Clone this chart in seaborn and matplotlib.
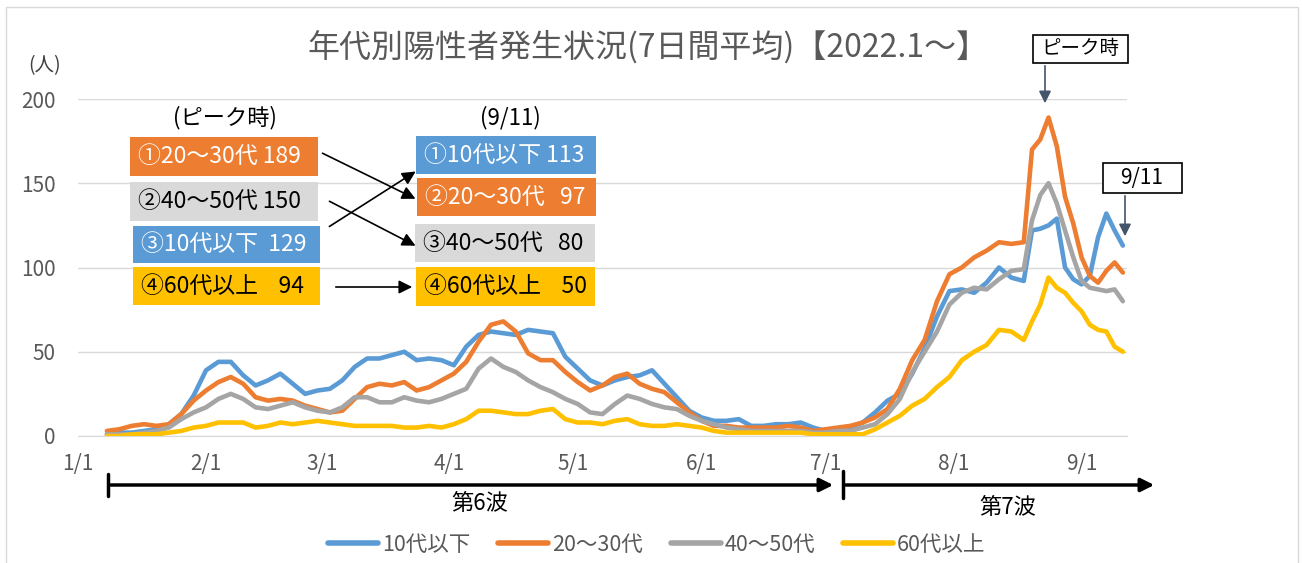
import pandas as pd
import matplotlib
matplotlib.use("Agg")
import matplotlib.pyplot as plt
from matplotlib.lines import Line2D
from matplotlib.patches import Rectangle, FancyArrowPatch
import seaborn as sns

# sample dates: every 3 days until 8/18, then every 2 days up to 9/11
dates = list(pd.date_range("2022-01-08", "2022-08-18", freq="3D")) + \
        list(pd.date_range("2022-08-20", "2022-09-11", freq="2D"))

under10 = [1, 2, 2, 3, 4, 7, 13, 24, 39, 44, 44, 36, 30, 33, 37, 31, 25, 27,
           28, 33, 41, 46, 46, 48, 50, 45, 46, 45,
           42, 53, 60, 62, 61, 60, 63, 62, 61, 47,
           40, 33, 30, 33, 35, 36, 39, 31, 23, 15,
           11, 9, 9, 10, 6, 6, 7, 7, 8, 5,
           3, 3, 5, 8, 14, 21, 25, 37, 52, 71, 86,
           87, 85, 91, 100, 94, 92,
           122, 123, 125, 129, 100, 93, 90, 95, 118, 132, 122, 113]
age20_30 = [3, 4, 6, 7, 6, 7, 13, 21, 27, 32, 35, 31, 23, 21, 22, 21, 18, 16,
            14, 15, 22, 29, 31, 30, 32, 27, 29, 33,
            37, 44, 56, 66, 68, 62, 49, 45, 45, 38,
            32, 27, 30, 35, 37, 31, 28, 26, 20, 14,
            9, 6, 6, 5, 5, 5, 5, 6, 5, 3,
            4, 5, 6, 8, 11, 16, 28, 45, 57, 80, 96,
            100, 106, 110, 115, 114, 115,
            170, 176, 189, 172, 142, 126, 106, 95, 91, 98, 103, 97]
age40_50 = [1, 1, 1, 2, 3, 5, 10, 14, 17, 22, 25, 22, 17, 16, 18, 20, 17, 15,
            14, 17, 23, 23, 20, 20, 23, 21, 20, 22,
            25, 28, 40, 46, 41, 38, 33, 29, 26, 22,
            19, 14, 13, 19, 24, 22, 19, 17, 16, 12,
            9, 7, 5, 4, 3, 3, 3, 3, 3, 2,
            2, 3, 3, 5, 7, 13, 22, 38, 50, 62, 78,
            85, 88, 87, 93, 98, 99,
            128, 143, 150, 138, 122, 106, 92, 88, 87, 86, 87, 80]
over60 = [0, 0, 1, 1, 1, 2, 3, 5, 6, 8, 8, 8, 5, 6, 8, 7, 8, 9,
          8, 7, 6, 6, 6, 6, 5, 5, 6, 5,
          7, 10, 15, 15, 14, 13, 13, 15, 16, 10,
          8, 8, 7, 9, 10, 7, 6, 6, 7, 6,
          5, 3, 2, 2, 2, 2, 2, 2, 2, 1,
          1, 1, 1, 1, 4, 8, 12, 18, 22, 29, 35,
          45, 50, 54, 63, 62, 57,
          68, 78, 94, 88, 85, 79, 74, 66, 63, 62, 53, 50]

series_names = ["10代以下", "20～30代", "40～50代", "60代以上"]
colors = ["#5B9BD5", "#ED7D31", "#A5A5A5", "#FFC000"]
month_ticks = pd.to_datetime(["2022-01-01", "2022-02-01", "2022-03-01", "2022-04-01", "2022-05-01",
                              "2022-06-01", "2022-07-01", "2022-08-01", "2022-09-01"])
month_labels = ["1/1", "2/1", "3/1", "4/1", "5/1", "6/1", "7/1", "8/1", "9/1"]

peak_labels = ["①20～30代 189", "②40～50代 150", "③10代以下  129", "④60代以上    94"]
peak_colors = ["#ED7D31", "#D9D9D9", "#5B9BD5", "#FFC000"]
latest_labels = ["①10代以下 113", "②20～30代   97", "③40～50代   80", "④60代以上    50"]
latest_colors = ["#5B9BD5", "#ED7D31", "#D9D9D9", "#FFC000"]

df = pd.DataFrame({
    "date": dates * 4,
    "value": under10 + age20_30 + age40_50 + over60,
    "age": sum([[n] * len(dates) for n in series_names], []),
})

sns.set_style("white")
plt.rcParams["font.family"] = ["Noto Sans CJK JP", "DejaVu Sans"]

W, H = 1302, 563
fig = plt.figure(figsize=(W / 100, H / 100), dpi=100)
ax = fig.add_axes([78 / W, 1 - 436 / H, (1127 - 78) / W, (436 - 99) / H])


def px(x, y):
    return x / W, 1 - y / H


sns.lineplot(data=df, x="date", y="value", hue="age", hue_order=series_names,
             palette=colors, linewidth=3.3, ax=ax, legend=False)

ax.set_xlim(pd.Timestamp("2022-01-01"), pd.Timestamp("2022-09-12"))
ax.set_ylim(0, 200)
ax.set_yticks([0, 50, 100, 150, 200])
ax.set_xticks(month_ticks)
ax.set_xticklabels(month_labels)
ax.set_xlabel("")
ax.set_ylabel("")
ax.yaxis.grid(True, color="#D9D9D9", lw=1)
ax.set_axisbelow(True)
for s in ["top", "right", "left"]:
    ax.spines[s].set_visible(False)
ax.spines["bottom"].set_color("#D9D9D9")
ax.tick_params(axis="y", length=0, pad=16, labelsize=15, labelcolor="#595959")
ax.tick_params(axis="x", length=6, width=1, color="#D9D9D9", direction="out", pad=6,
               labelsize=15, labelcolor="#595959")

# title and unit
fig.text(*px(648, 47), "年代別陽性者発生状況(7日間平均)【2022.1～】", ha="center", va="center",
         fontsize=23, color="#595959")
fig.text(*px(45, 66), "(人)", ha="center", va="center", fontsize=14, color="#404040")

# comparison boxes
fig.text(*px(225, 118), "(ピーク時)", ha="center", va="center", fontsize=16, color="black")
fig.text(*px(510, 118), "(9/11)", ha="center", va="center", fontsize=16, color="black")

peak_boxes = [(130, 137, 318, 176), (130, 182, 318, 221), (133, 226, 320, 263), (133, 267, 320, 305)]
latest_boxes = [(416, 136, 596, 174), (417, 178, 596, 216), (415, 224, 595, 262), (416, 267, 595, 306)]

for labels, cols, boxes in [(peak_labels, peak_colors, peak_boxes), (latest_labels, latest_colors, latest_boxes)]:
    for lab, col, (x0, y0, x1, y1) in zip(labels, cols, boxes):
        fig.patches.append(Rectangle(px(x0, y1), (x1 - x0) / W, (y1 - y0) / H,
                                     transform=fig.transFigure, facecolor=col, edgecolor="none"))
        tc = "white" if col in ("#ED7D31", "#5B9BD5") else "black"
        fig.text(*px(x0 + 8, (y0 + y1) / 2), lab, ha="left", va="center", fontsize=16.5, color=tc)

for (xa, ya), (xb, yb) in [((320, 152), (418, 200)), ((327, 228), (418, 170)),
                           ((327, 200), (418, 247)), ((333, 287), (415, 287))]:
    fig.patches.append(FancyArrowPatch(px(xa, ya), px(xb, yb), transform=fig.transFigure,
                                       arrowstyle="-|>", mutation_scale=20, color="black", lw=1.2))

# callouts at top right
fig.patches.append(Rectangle(px(1033, 63), 95 / W, 28 / H, transform=fig.transFigure,
                             facecolor="white", edgecolor="black", lw=1.2))
fig.text(*px(1080, 49), "ピーク時", ha="center", va="center", fontsize=14, color="black")
fig.patches.append(FancyArrowPatch(px(1045, 63), px(1045, 106), transform=fig.transFigure,
                                   arrowstyle="-|>", mutation_scale=18, color="#44546A", lw=1.2))
fig.patches.append(Rectangle(px(1103, 193), 79 / W, 30 / H, transform=fig.transFigure,
                             facecolor="white", edgecolor="black", lw=1.2))
fig.text(*px(1142, 178), "9/11", ha="center", va="center", fontsize=15, color="black")
fig.patches.append(FancyArrowPatch(px(1125, 193), px(1125, 239), transform=fig.transFigure,
                                   arrowstyle="-|>", mutation_scale=18, color="#44546A", lw=1.2))

# wave arrows
for x0, x1, ytop, ybot in [(108, 836, 474, 496), (843, 1157, 471, 498)]:
    fig.add_artist(Line2D([x0 / W, x0 / W], [1 - ytop / H, 1 - ybot / H], transform=fig.transFigure,
                          color="black", lw=2.5))
    fig.patches.append(FancyArrowPatch(px(x0, 485), px(x1, 485), transform=fig.transFigure,
                                       arrowstyle="-|>", mutation_scale=20, color="black", lw=2.5))
fig.text(*px(480, 503), "第6波", ha="center", va="center", fontsize=16, color="black")
fig.text(*px(1008, 508), "第7波", ha="center", va="center", fontsize=16, color="black")

# legend
handles = [Line2D([0], [0], color=c, lw=4) for c in colors]
leg = fig.legend(handles, series_names, loc="center", bbox_to_anchor=px(657, 545), ncol=4,
                 frameon=False, fontsize=15.5, handlelength=2.3, handletextpad=0.2, columnspacing=1.3)
for t in leg.get_texts():
    t.set_color("#595959")

# chart border
fig.patches.append(Rectangle(px(6, 575), 1292 / W, 568 / H, transform=fig.transFigure,
                             facecolor="none", edgecolor="#D9D9D9", lw=1))

fig.savefig("out.png", dpi=100)
